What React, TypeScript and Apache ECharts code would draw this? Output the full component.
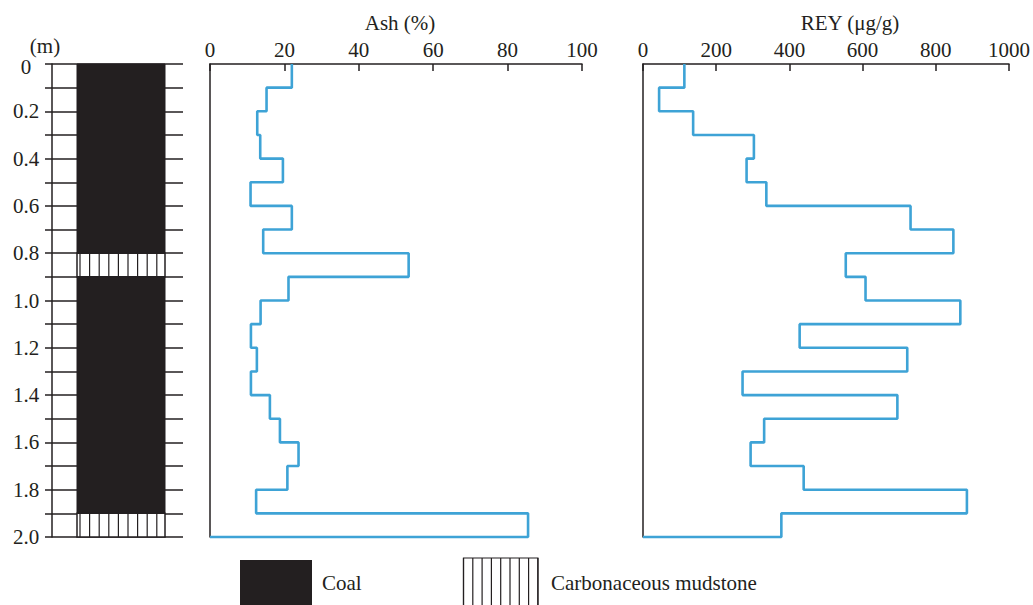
import React, { useEffect, useRef } from "react";
import * as echarts from "echarts";

// ---- data ----
const depthEdges = [0, 0.1, 0.2, 0.3, 0.4, 0.5, 0.6, 0.7, 0.8, 0.9, 1.0, 1.1, 1.2, 1.3, 1.4, 1.5, 1.6, 1.7, 1.8, 1.9, 2.0];
const ashPct = [22.0, 15.2, 12.7, 13.5, 19.6, 10.9, 22.0, 14.3, 53.4, 21.1, 13.6, 11.0, 12.6, 11.0, 16.1, 18.8, 23.8, 20.8, 12.4, 85.5];
const reyUgG = [113, 44, 137, 303, 283, 337, 731, 848, 554, 608, 867, 428, 722, 272, 695, 331, 294, 439, 885, 378];
const lithTop = [0, 0.8, 0.9, 1.9];
const lithBottom = [0.8, 0.9, 1.9, 2.0];
const lithType = ["Coal", "Carbonaceous mudstone", "Coal", "Carbonaceous mudstone"];
const ashTicks = { min: 0, max: 100, step: 20 };
const reyTicks = { min: 0, max: 1000, step: 200 };
const depthTicks = { min: 0, max: 2, step: 0.1 };

const INK = "#231f20";
const BLUE = "#3ea3d6";
const FONT = "'Liberation Serif', 'Times New Roman', serif";

function stepPoints(vals: number[]) {
  const pts: number[][] = [];
  vals.forEach((v, i) => {
    pts.push([v, depthEdges[i]]);
    pts.push([v, depthEdges[i + 1]]);
  });
  pts.push([0, depthEdges[depthEdges.length - 1]]);
  return pts;
}

export default function App() {
  const ref = useRef<HTMLDivElement>(null);
  useEffect(() => {
    const chart = echarts.init(ref.current!, null, { renderer: "svg" });
    const hiddenDepthAxis = (gi: number) => ({
      type: "value",
      gridIndex: gi,
      inverse: true,
      min: depthTicks.min,
      max: depthTicks.max,
      axisLine: { show: true, lineStyle: { color: INK, width: 1.5 } },
      axisTick: { show: false },
      axisLabel: { show: false },
      splitLine: { show: false },
    });
    const topAxis = (gi: number, t: { min: number; max: number; step: number }) => ({
      type: "value",
      gridIndex: gi,
      position: "top",
      min: t.min,
      max: t.max,
      interval: t.step,
      axisLine: { show: true, lineStyle: { color: INK, width: 1.5 } },
      axisTick: { show: true, inside: true, length: 7, lineStyle: { color: INK, width: 1.5 } },
      axisLabel: { fontFamily: FONT, fontSize: 21, color: INK, margin: 4, formatter: (v: number) => String(v) },
      splitLine: { show: false },
    });

    const legendHatch: any[] = [];
    for (let k = 0; k < 9; k++) {
      const x = 463.5 + k * 9.3;
      legendHatch.push({
        type: "line",
        shape: { x1: x, y1: 558, x2: x, y2: 610 },
        style: { stroke: INK, lineWidth: 1.2 },
      });
    }

    chart.setOption({
      animation: false,
      grid: [
        { left: 52, top: 64, width: 131, height: 473 },
        { left: 210, top: 64, width: 372, height: 473 },
        { left: 643, top: 64, width: 366, height: 473 },
      ],
      xAxis: [
        { type: "value", gridIndex: 0, min: 0, max: 131, show: false },
        topAxis(1, ashTicks),
        topAxis(2, reyTicks),
      ],
      yAxis: [
        {
          type: "value",
          gridIndex: 0,
          inverse: true,
          min: depthTicks.min,
          max: depthTicks.max,
          interval: depthTicks.step,
          axisLine: { show: true, lineStyle: { color: INK, width: 1.5 } },
          axisTick: { show: true, inside: false, length: 7, lineStyle: { color: INK, width: 1.5 } },
          splitLine: { show: true, lineStyle: { color: INK, width: 1.5 } },
          axisLabel: {
            fontFamily: FONT,
            fontSize: 21,
            color: INK,
            align: "center",
            margin: 26,
            formatter: (v: number) => {
              const k = Math.round(v * 10);
              if (k % 2) return "";
              return k === 0 ? "{z|0}" : (k / 10).toFixed(1);
            },
            rich: { z: { fontFamily: FONT, fontSize: 21, color: INK, padding: [6, 0, 0, 0] } },
          },
        },
        hiddenDepthAxis(1),
        hiddenDepthAxis(2),
      ],
      series: [
        {
          type: "custom",
          xAxisIndex: 0,
          yAxisIndex: 0,
          data: lithTop.map((t, i) => [t, lithBottom[i], lithType[i] === "Coal" ? 0 : 1]),
          encode: { y: [0, 1] },
          clip: false,
          renderItem: (params: any, api: any) => {
            const top = api.value(0);
            const bot = api.value(1);
            const kind = api.value(2);
            const p1 = api.coord([25, top]);
            const p2 = api.coord([113, bot]);
            const w = p2[0] - p1[0];
            const h = p2[1] - p1[1];
            if (kind === 0) {
              return {
                type: "rect",
                shape: { x: p1[0], y: p1[1], width: w, height: h },
                style: { fill: INK, stroke: INK, lineWidth: 1 },
              };
            }
            const children: any[] = [
              {
                type: "rect",
                shape: { x: p1[0], y: p1[1], width: w, height: h },
                style: { fill: "#ffffff", stroke: INK, lineWidth: 1.5 },
              },
            ];
            for (let x = p1[0] + 3; x < p2[0] - 2; x += 9.6) {
              children.push({
                type: "line",
                shape: { x1: x, y1: p1[1], x2: x, y2: p2[1] },
                style: { stroke: INK, lineWidth: 1.2 },
              });
            }
            return { type: "group", children };
          },
        },
        {
          type: "line",
          xAxisIndex: 1,
          yAxisIndex: 1,
          data: stepPoints(ashPct),
          showSymbol: false,
          clip: false,
          lineStyle: { color: BLUE, width: 2.6 },
        },
        {
          type: "line",
          xAxisIndex: 2,
          yAxisIndex: 2,
          data: stepPoints(reyUgG),
          showSymbol: false,
          clip: false,
          lineStyle: { color: BLUE, width: 2.6 },
        },
      ],
      graphic: [
        { type: "text", x: 400, y: 23, style: { text: "Ash (%)", font: `21px ${FONT}`, fill: INK, textAlign: "center", textVerticalAlign: "middle" } },
        { type: "text", x: 850, y: 23, style: { text: "REY (μg/g)", font: `21px ${FONT}`, fill: INK, textAlign: "center", textVerticalAlign: "middle" } },
        { type: "text", x: 45, y: 46, style: { text: "(m)", font: `21px ${FONT}`, fill: INK, textAlign: "center", textVerticalAlign: "middle" } },
        { type: "rect", shape: { x: 240, y: 560, width: 72, height: 50 }, style: { fill: INK } },
        { type: "rect", shape: { x: 463.5, y: 558, width: 74.4, height: 52 }, style: { fill: "#fff", stroke: INK, lineWidth: 1.2 } },
        ...legendHatch,
        { type: "text", x: 322, y: 583, style: { text: "Coal", font: `21px ${FONT}`, fill: INK, textAlign: "left", textVerticalAlign: "middle" } },
        { type: "text", x: 551, y: 583, style: { text: "Carbonaceous mudstone", font: `21px ${FONT}`, fill: INK, textAlign: "left", textVerticalAlign: "middle" } },
      ],
    });
    return () => chart.dispose();
  }, []);
  return <div ref={ref} style={{ position: "absolute", left: 0, top: 0, width: 1033, height: 605, background: "#fff" }} />;
}
